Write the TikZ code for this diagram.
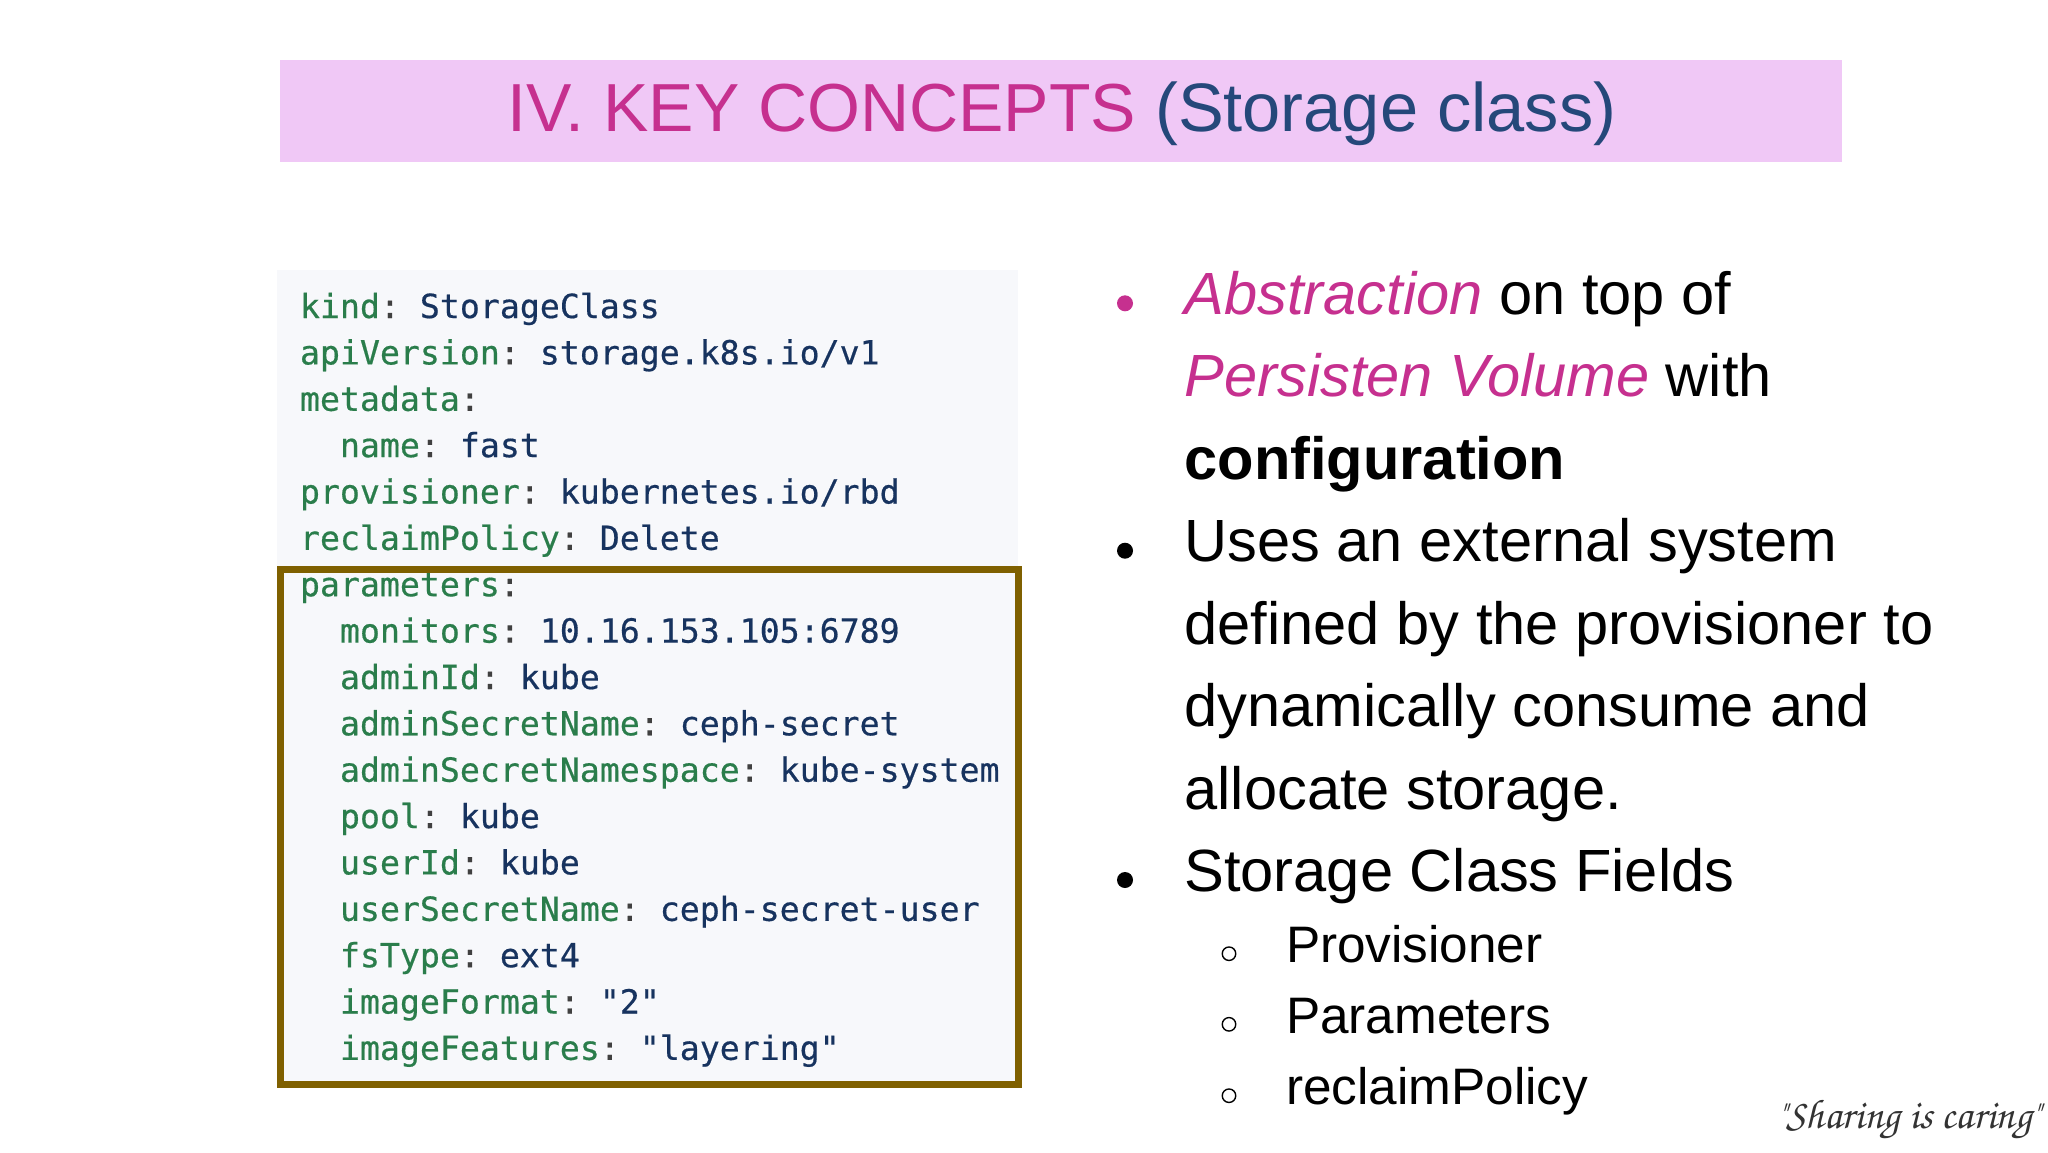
\documentclass[tikz,border=0pt]{standalone}
\usepackage{fontspec}
\setmainfont{Liberation Sans}
\newfontfamily\codefont[FakeBold=0.5]{DejaVu Sans Mono}
\definecolor{bandpink}{HTML}{F0C8F6}
\definecolor{magentatxt}{HTML}{C6308F}
\definecolor{bluetxt}{HTML}{25487A}
\definecolor{codebg}{HTML}{F7F8FB}
\definecolor{keygreen}{HTML}{2A7D4B}
\definecolor{valnavy}{HTML}{17335F}
\definecolor{gold}{HTML}{7F6000}
\frenchspacing
\newcommand{\kk}[1]{\textcolor{keygreen}{#1}}
\newcommand{\vv}[1]{\textcolor{valnavy}{#1}}
\tikzset{
 x=1pt,y=-1pt,
 codeline/.style={anchor=base west,inner sep=0pt,outer sep=0pt,font=\codefont\fontsize{33.2}{33.2}\selectfont,text=black!75},
 bigline/.style={anchor=base west,inner sep=0pt,outer sep=0pt,font=\fontsize{59.6}{59.6}\selectfont,text=black},
 subline/.style={anchor=base west,inner sep=0pt,outer sep=0pt,font=\fontsize{51.3}{51.3}\selectfont,text=black},
 bulletdot/.style={circle,fill=black,inner sep=0pt,minimum size=16pt},
 subdot/.style={circle,draw=black,line width=1.4pt,inner sep=0pt,minimum size=13.5pt},
}
\begin{document}
\begin{tikzpicture}
\useasboundingbox (0,0) rectangle (2048,1152);
\fill[white] (0,0) rectangle (2048,1152);
\fill[bandpink] (280,60) rectangle (1842,162);
\node[anchor=base west,inner sep=0pt,font=\fontsize{68}{68}\selectfont] (title) at (507.5,131) {\textcolor{magentatxt}{IV. KEY CONCEPTS} \textcolor{bluetxt}{\fontsize{68.6}{68.6}\selectfont(Storage class)}};
\fill[codebg] (277,270) rectangle (1018,1085);
\node[codeline] (c1) at (300,318) {\kk{kind}: \vv{StorageClass}};
\node[codeline] (c2) at (300,364.4) {\kk{apiVersion}: \vv{storage.k8s.io/v1}};
\node[codeline] (c3) at (300,410.8) {\kk{metadata}:};
\node[codeline] (c4) at (340,457.1) {\kk{name}: \vv{fast}};
\node[codeline] (c5) at (300,503.5) {\kk{provisioner}: \vv{kubernetes.io/rbd}};
\node[codeline] (c6) at (300,549.9) {\kk{reclaimPolicy}: \vv{Delete}};
\node[codeline] (c7) at (300,596.2) {\kk{parameters}:};
\node[codeline] (c8) at (340,642.6) {\kk{monitors}: \vv{10.16.153.105:6789}};
\node[codeline] (c9) at (340,689) {\kk{adminId}: \vv{kube}};
\node[codeline] (c10) at (340,735.3) {\kk{adminSecretName}: \vv{ceph-secret}};
\node[codeline] (c11) at (340,781.7) {\kk{adminSecretNamespace}: \vv{kube-system}};
\node[codeline] (c12) at (340,828.1) {\kk{pool}: \vv{kube}};
\node[codeline] (c13) at (340,874.4) {\kk{userId}: \vv{kube}};
\node[codeline] (c14) at (340,920.8) {\kk{userSecretName}: \vv{ceph-secret-user}};
\node[codeline] (c15) at (340,967.2) {\kk{fsType}: \vv{ext4}};
\node[codeline] (c16) at (340,1013.5) {\kk{imageFormat}: \vv{"2"}};
\node[codeline] (c17) at (340,1059.8) {\kk{imageFeatures}: \vv{"layering"}};
\node[draw=gold,line width=7pt,inner sep=0pt,minimum width=738pt,minimum height=515pt,anchor=north west] (hl) at (276.5,565.5) {};
\node[bulletdot,fill=magentatxt] (b1) at (1125,303.3) {};
\node[bigline] (t1) at (1184.5,314.5) {\textcolor{magentatxt}{\textit{Abstraction}} on top of};
\node[bigline] (t2) at (1184.5,396.8) {\textcolor{magentatxt}{\textit{Persisten Volume}} with};
\node[bigline] (t3) at (1184.5,479) {\textbf{configuration}};
\node[bulletdot] (b2) at (1125,550.7) {};
\node[bigline] (t4) at (1184.5,561.5) {Uses an external system};
\node[bigline] (t5) at (1184.5,644) {defined by the provisioner to};
\node[bigline] (t6) at (1184.5,726.5) {dynamically consume and};
\node[bigline] (t7) at (1184.5,809) {allocate storage.};
\node[bulletdot] (b3) at (1125,880) {};
\node[bigline] (t8) at (1184.5,891.5) {Storage Class Fields};
\node[subdot] (s1) at (1229,953.7) {};
\node[subline] (u1) at (1286,962.7) {Provisioner};
\node[subdot] (s2) at (1229,1024.3) {};
\node[subline] (u2) at (1286,1033) {Parameters};
\node[subdot] (s3) at (1229,1095.7) {};
\node[subline] (u3) at (1286,1104.3) {reclaimPolicy};
\node[anchor=base east,inner sep=0pt,font=\fontencoding{T1}\fontfamily{pzc}\fontseries{m}\fontshape{it}\fontsize{41.5}{41.5}\selectfont,text=black!80] (sig) at (2041,1128) {\symbol{34}Sharing is caring\symbol{34}};
\end{tikzpicture}
\end{document}
